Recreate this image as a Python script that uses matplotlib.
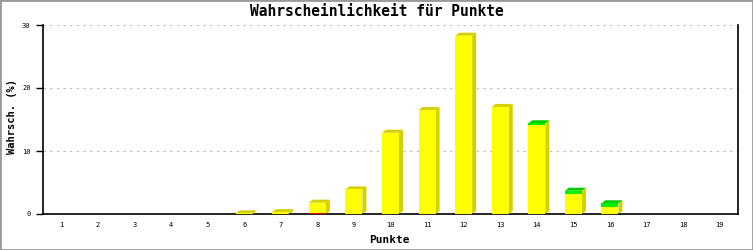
import numpy as np
import matplotlib.pyplot as plt
from matplotlib.patches import Polygon, Rectangle

# Data
punkte = list(range(1, 20))
rot = [0, 0, 0, 0, 0, 0, 0, 0.15, 0, 0, 0, 0, 0, 0, 0, 0, 0, 0, 0]
gelb = [0, 0, 0, 0, 0, 0.1, 0.3, 1.65, 3.9, 12.9, 16.5, 28.3, 17.0, 14.15, 3.2, 1.1, 0, 0, 0]
gruen = [0, 0, 0, 0, 0, 0, 0, 0, 0, 0, 0, 0, 0, 0.25, 0.5, 0.6, 0, 0, 0]
yticks = [0, 10, 20, 30]

FRONT = {"rot": "#ff0000", "gelb": "#ffff00", "gruen": "#00ee00"}
TOP = {"rot": "#cc0000", "gelb": "#d4d000", "gruen": "#00cc00"}
SIDE = "#d4d000"

W, H = 753, 250
fig = plt.figure(figsize=(W / 100, H / 100), dpi=100)
ax_left, ax_right, ax_bottom, ax_top = 43, 738, 214, 25
ax = fig.add_axes([ax_left / W, 1 - ax_bottom / H, (ax_right - ax_left) / W, (ax_bottom - ax_top) / H])

ax.set_xlim(0.5, 19.5)
ax.set_ylim(0, 30)

# pixel -> data conversions for the 3D offset
px_x = 19.0 / (ax_right - ax_left)
px_y = 30.0 / (ax_bottom - ax_top)
dx, dy = 4 * px_x, 3 * px_y
bw = 17 * px_x

for i, x in enumerate(punkte):
    segs = [("rot", rot[i]), ("gelb", gelb[i]), ("gruen", gruen[i])]
    segs = [(k, v) for k, v in segs if v > 0]
    if not segs:
        continue
    base = 0
    x0 = x - bw / 2
    for k, v in segs:
        ax.add_patch(Rectangle((x0, base), bw, v, facecolor=FRONT[k], edgecolor="none", zorder=3))
        base += v
    total = base
    # side face
    ax.add_patch(Polygon([(x0 + bw, 0), (x0 + bw + dx, dy), (x0 + bw + dx, total + dy), (x0 + bw, total)],
                         closed=True, facecolor=SIDE, edgecolor="none", zorder=2))
    # top face
    ax.add_patch(Polygon([(x0, total), (x0 + dx, total + dy), (x0 + bw + dx, total + dy), (x0 + bw, total)],
                         closed=True, facecolor=TOP[segs[-1][0]], edgecolor="none", zorder=2))

mono = "DejaVu Sans Mono"
ax.set_xticks(punkte)
ax.set_xticklabels([str(p) for p in punkte], fontsize=5, family=mono)
ax.tick_params(axis="x", length=0, pad=6)
ax.set_yticks(yticks)
ax.set_yticklabels([str(t) for t in yticks], fontsize=5, family=mono)
ax.tick_params(axis="y", length=5, width=1, direction="out", pad=4)

for yv in yticks[1:]:
    ax.axhline(yv, color="#bbbbbb", lw=0.8, ls=(0, (2, 4)), zorder=1)

ax.spines["top"].set_visible(False)
for s in ["left", "right", "bottom"]:
    ax.spines[s].set_linewidth(1.2)
    ax.spines[s].set_color("black")

fig.text(389 / W, 1 - 240 / H, "Punkte", ha="center", va="center",
         fontsize=8, fontweight="bold", family=mono)
fig.text(12 / W, 1 - 117 / H, "Wahrsch. (%)", ha="center", va="center", rotation=90,
         fontsize=7.5, fontweight="bold", family=mono)
fig.text(0.5, 1 - 12 / H, "Wahrscheinlichkeit für Punkte", ha="center", va="center",
         fontsize=10.5, fontweight="bold", family=mono)

# outer frame
fig.add_artist(Rectangle((0, 0), 1, 1, transform=fig.transFigure, fill=False,
                         edgecolor="#999999", lw=2))

fig.savefig("out.png", dpi=100, facecolor="white")
